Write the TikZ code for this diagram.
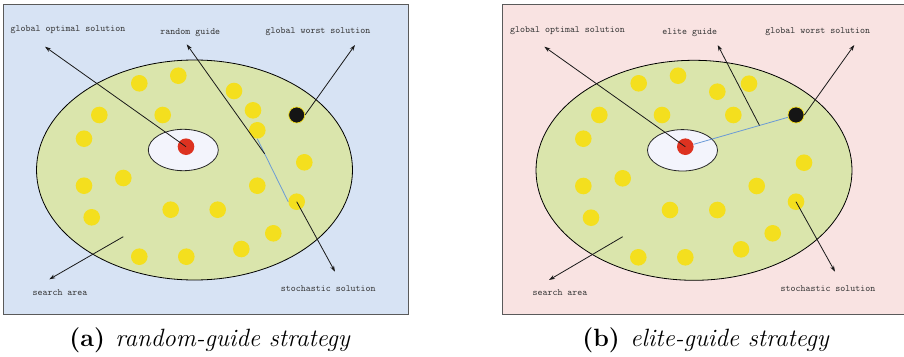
\documentclass[tikz,border=0pt]{standalone}
\usetikzlibrary{arrows.meta,shapes.geometric,calc}
\definecolor{bgblue}{HTML}{D7E3F4}
\definecolor{bgpink}{HTML}{F9E3E2}
\definecolor{areafill}{HTML}{DAE5AC}
\definecolor{corefill}{HTML}{F3F4FC}
\definecolor{dotyellow}{HTML}{F4DF1E}
\definecolor{dotred}{HTML}{DD3220}
\definecolor{dotblack}{HTML}{151515}
\definecolor{guideblue}{HTML}{6A9AD6}
\definecolor{framegray}{HTML}{5A5A5A}
\definecolor{labelgray}{HTML}{333333}
\tikzset{
  panelframe/.style={draw=framegray, line width=1pt},
  area/.style={ellipse, draw=black, line width=0.8pt, fill=areafill, minimum width=316pt, minimum height=220pt, inner sep=0},
  core/.style={ellipse, draw=black!85, line width=0.8pt, fill=corefill, minimum width=70pt, minimum height=41.4pt, inner sep=0},
  ydot/.style={circle, fill=dotyellow, minimum size=16.6pt, inner sep=0},
  rdot/.style={circle, fill=dotred, minimum size=16.6pt, inner sep=0},
  bdot/.style={circle, fill=dotblack, draw=dotyellow, line width=0.7pt, minimum size=16pt, inner sep=0},
  pointer/.style={draw=black!90, line width=0.8pt, -{Stealth[length=6pt,width=4pt]}},
  guide/.style={draw=guideblue, line width=0.8pt},
  lbl/.style={text=labelgray, font=\ttfamily\fontsize{9.5}{11}\selectfont, inner sep=0},
  captext/.style={font=\fontsize{25}{29}\selectfont, inner sep=0, anchor=base}
}
\begin{document}
\begin{tikzpicture}[x=1pt,y=-1pt]
\useasboundingbox (0,0) rectangle (904,356);
% ---------- panel (a) ----------
\fill[bgblue] (3.3,4.7) rectangle (408,314.7);
\draw[panelframe] (3.3,4.7) rectangle (408,314.7);
\node[area] (aArea) at (194.5,170) {};
\node[core] (aCore) at (183.3,150) {};
\foreach \n/\x/\y in {1/139.3/83.3, 2/178.3/75.7, 3/234/91, 4/99.3/115, 5/162.7/115, 6/253/110.3, 7/257.3/130.3, 9/84/138.7, 10/304.3/162.3, 11/84/185.7, 12/123.3/178, 13/257.3/185.7, 14/91.7/217.3, 15/170.7/209.7, 16/217.7/209.7, 17/296.7/201.7, 18/273.3/233.3, 19/139.3/256.7, 20/186.3/256.7, 21/241.3/249}
  \node[ydot] (aD\n) at (\x,\y) {};
\node[rdot] (aBest) at (186,146.7) {};
\node[bdot] (aWorst) at (296.7,115) {};
\draw[guide] (aD7.south) -- (aD17.west);
\coordinate (aG) at ($(aD7.south)!0.24!(aD17.west)$);
\node[lbl] (aLopt) at (68,30) {global optimal solution};
\node[lbl] (aLguide) at (190.3,32.3) {random guide};
\node[lbl] (aLworst) at (318,31.7) {global worst solution};
\node[lbl] (aLsto) at (328.3,288.3) {stochastic solution};
\node[lbl] (aLarea) at (60,292.7) {search area};
\coordinate (aToptT) at (45,46.7);
\coordinate (aTguideT) at (186.7,44.3);
\coordinate (aTworstT) at (355,45);
\coordinate (aTstoT) at (335,271.7);
\coordinate (aAreaP) at (123.3,236.7);
\coordinate (aTareaT) at (49.3,279.3);
\draw[pointer] (aBest.center) -- (aToptT);
\draw[pointer] (aG) -- (aTguideT);
\draw[pointer] (aWorst.east) -- (aTworstT);
\draw[pointer] (aD17.center) -- (aTstoT);
\draw[pointer] (aAreaP) -- (aTareaT);
\node[captext] (aCap) at (210,346.5) {\textbf{(a)}\hspace{0.42em}\textit{random-guide strategy}};
% ---------- panel (b) ----------
\fill[bgpink] (502.5,4.7) rectangle (904,314.7);
\draw[panelframe] (904,4.7) -- (502.5,4.7) -- (502.5,314.7) -- (904,314.7);
\node[area] (bArea) at (694,170.3) {};
\node[core] (bCore) at (682.5,150.3) {};
\foreach \n/\x/\y in {1/638.7/83.3, 2/678/75.7, 3/717.3/91.7, 4/749/83.7, 5/599.3/115, 6/662/115, 7/733.3/115, 9/583.3/138.7, 10/804/162.7, 11/583.3/186, 12/622.7/178.3, 13/756.7/186, 14/591/217.7, 15/670/210, 16/717.3/210, 17/796/201.7, 18/772.7/233.3, 19/638.3/257.3, 20/685.3/257.3, 21/741/249.3}
  \node[ydot] (bD\n) at (\x,\y) {};
\node[rdot] (bBest) at (685.3,146.7) {};
\node[bdot] (bWorst) at (796,115) {};
\draw[guide] (bBest) -- (bWorst);
\coordinate (bG) at ($(bBest)!0.67!(bWorst)$);
\node[lbl] (bLopt) at (567.5,30.7) {global optimal solution};
\node[lbl] (bLguide) at (689.7,32.3) {elite guide};
\node[lbl] (bLworst) at (817.8,32) {global worst solution};
\node[lbl] (bLsto) at (828,288.7) {stochastic solution};
\node[lbl] (bLarea) at (560,293) {search area};
\coordinate (bToptT) at (544.3,46.7);
\coordinate (bTguideT) at (717.7,45);
\coordinate (bTworstT) at (854.3,45);
\coordinate (bTstoT) at (835,271.7);
\coordinate (bAreaP) at (622.7,236.7);
\coordinate (bTareaT) at (549,280);
\draw[pointer] (bBest.center) -- (bToptT);
\draw[pointer] (bG) -- (bTguideT);
\draw[pointer] (bWorst.east) -- (bTworstT);
\draw[pointer] (bD17.center) -- (bTstoT);
\draw[pointer] (bAreaP) -- (bTareaT);
\node[captext] (bCap) at (706,346.5) {\textbf{(b)}\hspace{0.42em}\textit{elite-guide strategy}};
\end{tikzpicture}
\end{document}
